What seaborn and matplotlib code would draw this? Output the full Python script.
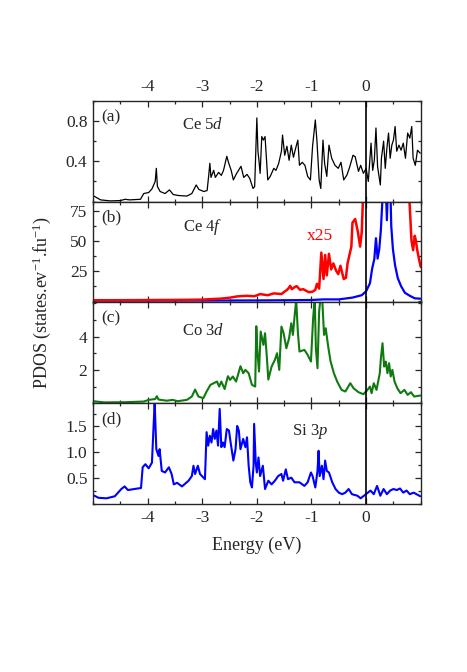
import numpy as np
import pandas as pd
import matplotlib
matplotlib.use("Agg")
import matplotlib.pyplot as plt
from matplotlib.ticker import MultipleLocator, FixedLocator
import seaborn as sns

sns.set_style("ticks")
plt.rcParams['font.family'] = ['Liberation Serif', 'DejaVu Serif']
plt.rcParams['mathtext.fontset'] = 'custom'
plt.rcParams['mathtext.rm'] = 'Liberation Serif'
plt.rcParams['mathtext.it'] = 'Liberation Serif:italic'
plt.rcParams['axes.unicode_minus'] = False

# (a) Ce 5d
ce5d_E = [-4.99, -4.86, -4.68, -4.50, -4.41, -4.33, -4.13, -4.07, -3.98, -3.92, -3.86, -3.84,
          -3.82, -3.77, -3.68, -3.60, -3.53, -3.43, -3.28, -3.19, -3.11, -3.06, -2.97, -2.91,
          -2.88, -2.86, -2.84, -2.79, -2.76, -2.70, -2.65, -2.61, -2.55, -2.52, -2.47, -2.43,
          -2.37, -2.29, -2.24, -2.18, -2.13, -2.07, -2.04, -2.00, -1.98, -1.96, -1.94, -1.91,
          -1.88, -1.85, -1.80, -1.755, -1.69, -1.65, -1.60, -1.55, -1.53, -1.49, -1.45, -1.41,
          -1.37, -1.33, -1.29, -1.25, -1.22, -1.17, -1.12, -1.07, -1.02, -0.98, -0.93, -0.90,
          -0.86, -0.83, -0.79, -0.76, -0.72, -0.68, -0.63, -0.57, -0.51, -0.46, -0.41, -0.35,
          -0.30, -0.24, -0.20, -0.14, -0.10, -0.05, 0.00, 0.04, 0.09, 0.12, 0.15, 0.18, 0.21,
          0.26, 0.28, 0.32, 0.35, 0.38, 0.41, 0.44, 0.47, 0.50, 0.53, 0.56, 0.60, 0.64, 0.68,
          0.72, 0.76, 0.80, 0.835, 0.86, 0.90, 0.94, 0.99]
ce5d = [0.057, 0.017, 0.007, 0.010, 0.023, 0.017, 0.023, 0.080, 0.090, 0.126, 0.20, 0.33,
        0.15, 0.10, 0.08, 0.116, 0.07, 0.06, 0.055, 0.08, 0.165, 0.12, 0.10, 0.11,
        0.265, 0.38, 0.24, 0.31, 0.24, 0.29, 0.26, 0.31, 0.45, 0.39, 0.31, 0.215,
        0.28, 0.35, 0.24, 0.27, 0.23, 0.13, 0.15, 0.83, 0.50, 0.40, 0.28, 0.645,
        0.61, 0.645, 0.215, 0.25, 0.33, 0.31, 0.38, 0.50, 0.66, 0.46, 0.55, 0.41,
        0.56, 0.44, 0.53, 0.61, 0.36, 0.39, 0.36, 0.25, 0.215, 0.55, 0.81, 0.60,
        0.215, 0.13, 0.61, 0.38, 0.25, 0.56, 0.43, 0.36, 0.33, 0.39, 0.215, 0.265,
        0.345, 0.46, 0.445, 0.30, 0.36, 0.28, 0.33, 0.20, 0.58, 0.31, 0.41, 0.73, 0.345,
        0.165, 0.43, 0.60, 0.33, 0.53, 0.68, 0.43, 0.56, 0.61, 0.745, 0.50, 0.56, 0.51, 0.58,
        0.43, 0.68, 0.63, 0.745, 0.43, 0.36, 0.51, 0.48]

# (b) Ce 4f : x25 curve (red, two visible parts) and raw curve (blue)
ce4f_x25_E_low = [-5.0, -4.6, -4.2, -3.8, -3.4, -3.0, -2.85, -2.67, -2.5, -2.36, -2.18, -2.05,
                  -1.94, -1.80, -1.69, -1.55, -1.45, -1.42, -1.39, -1.36, -1.33, -1.30, -1.27,
                  -1.21, -1.15, -1.05, -0.98, -0.93, -0.90, -0.86, -0.82, -0.78, -0.75, -0.72,
                  -0.68, -0.64, -0.60, -0.55, -0.51, -0.47, -0.41, -0.37, -0.34, -0.29, -0.27,
                  -0.25, -0.20, -0.15, -0.11, -0.08, -0.05]
ce4f_x25_low = [0.3, 0.3, 0.4, 0.5, 0.6, 0.8, 1.2, 1.6, 2.4, 3.5, 4.0, 3.6,
                5.4, 4.5, 6.0, 5.5, 8.9, 10.3, 12.3, 9.5, 10.5, 11.5, 12.0,
                9.0, 9.5, 7.0, 7.4, 9.0, 14.0, 10.0, 40.0, 18.0, 38.0, 21.0,
                39.0, 26.0, 31.0, 25.0, 22.0, 29.0, 18.0, 19.0, 31.0, 41.0, 45.0,
                65.0, 68.0, 57.0, 45.0, 57.0, 95.0]
ce4f_x25_E_high = [0.78, 0.83, 0.86, 0.89, 0.91, 0.94, 0.97, 1.0]
ce4f_x25_high = [95.0, 50.0, 42.0, 54.0, 50.0, 41.0, 34.0, 28.0]
ce4f_E = [-5.0, -3.0, -2.0, -1.5, -1.0, -0.78, -0.5, -0.25, -0.08, 0.0, 0.07, 0.11, 0.15,
          0.18, 0.21, 0.24, 0.27, 0.31, 0.35, 0.38, 0.41, 0.44, 0.46, 0.49, 0.53, 0.58,
          0.64, 0.71, 0.80, 0.89, 0.99]
ce4f = [0.0, 0.05, 0.15, 0.3, 0.5, 1.0, 1.0, 2.5, 4.5, 7.8, 14.5, 26.6, 34.7,
        52.0, 35.0, 42.7, 59.0, 95.0, 110.0, 67.0, 110.0, 100.0, 62.0, 43.0, 29.3, 18.6,
        12.0, 6.5, 4.0, 1.9, 1.6]

# (c) Co 3d
co3d_E = [-4.99, -4.8, -4.4, -4.07, -3.98, -3.86, -3.83, -3.80, -3.65, -3.54, -3.45, -3.28,
          -3.19, -3.13, -3.07, -2.98, -2.92, -2.85, -2.79, -2.73, -2.69, -2.65, -2.59, -2.53,
          -2.49, -2.44, -2.38, -2.30, -2.25, -2.21, -2.15, -2.09, -2.03, -2.01, -1.99, -1.96,
          -1.93, -1.88, -1.85, -1.82, -1.79, -1.73, -1.67, -1.63, -1.59, -1.55, -1.51, -1.46,
          -1.41, -1.37, -1.34, -1.31, -1.28, -1.25, -1.22, -1.13, -1.07, -1.01, -0.97, -0.94,
          -0.92, -0.89, -0.86, -0.83, -0.80, -0.77, -0.74, -0.69, -0.65, -0.59, -0.53, -0.45,
          -0.38, -0.29, -0.23, -0.14, -0.05, 0.01, 0.07, 0.10, 0.14, 0.19, 0.25, 0.27, 0.30,
          0.33, 0.36, 0.39, 0.42, 0.45, 0.48, 0.52, 0.57, 0.63, 0.70, 0.76, 0.82, 0.88, 0.99]
co3d = [0.12, 0.05, 0.06, 0.10, 0.20, 0.25, 0.42, 0.22, 0.15, 0.20, 0.12, 0.20,
        0.40, 0.82, 0.40, 0.30, 0.70, 1.10, 1.20, 1.30, 1.00, 1.30, 0.85, 1.62,
        1.40, 1.60, 1.30, 2.22, 1.80, 2.00, 1.80, 1.10, 1.00, 4.62, 3.10, 1.90,
        4.30, 3.50, 4.20, 2.90, 1.42, 2.20, 2.60, 3.00, 2.00, 4.60, 4.20, 3.30,
        3.90, 4.80, 4.10, 5.20, 6.20, 4.30, 3.10, 3.20, 2.90, 2.50, 5.10, 6.30,
        3.30, 2.10, 5.50, 6.50, 6.00, 4.10, 4.50, 3.30, 2.50, 1.80, 1.30, 0.80,
        0.70, 1.20, 0.90, 0.66, 0.54, 0.74, 1.00, 0.60, 1.20, 0.80, 1.80, 2.70, 3.60,
        2.20, 2.50, 1.80, 2.40, 1.60, 2.00, 1.30, 0.90, 0.60, 0.80, 0.50, 0.66, 0.40, 0.46]

# (d) Si 3p
si3p_E = [-4.99, -4.9, -4.75, -4.6, -4.48, -4.42, -4.36, -4.12, -4.09, -4.04, -3.98, -3.92,
          -3.89, -3.87, -3.84, -3.80, -3.78, -3.74, -3.68, -3.61, -3.56, -3.52, -3.46, -3.37,
          -3.25, -3.19, -3.16, -3.13, -3.08, -3.04, -2.95, -2.92, -2.89, -2.86, -2.83, -2.80,
          -2.77, -2.74, -2.71, -2.68, -2.65, -2.62, -2.59, -2.55, -2.51, -2.48, -2.43, -2.39,
          -2.36, -2.33, -2.30, -2.25, -2.21, -2.18, -2.15, -2.12, -2.09, -2.06, -2.05, -2.02,
          -2.00, -1.97, -1.94, -1.89, -1.85, -1.79, -1.73, -1.67, -1.61, -1.55, -1.52, -1.47,
          -1.43, -1.37, -1.31, -1.22, -1.13, -1.07, -1.01, -0.98, -0.93, -0.89, -0.87, -0.85,
          -0.81, -0.78, -0.75, -0.72, -0.68, -0.62, -0.56, -0.50, -0.44, -0.38, -0.32, -0.26,
          -0.16, -0.10, -0.04, 0.02, 0.08, 0.14, 0.20, 0.26, 0.32, 0.38, 0.44, 0.50, 0.56,
          0.62, 0.68, 0.74, 0.80, 0.87, 0.99]
si3p = [0.17, 0.12, 0.11, 0.15, 0.29, 0.34, 0.27, 0.31, 0.71, 0.77, 0.69, 0.80,
        1.51, 1.97, 1.06, 0.93, 1.06, 0.64, 0.61, 0.71, 0.58, 0.38, 0.41, 0.34,
        0.45, 0.54, 0.74, 0.58, 0.74, 0.58, 0.48, 1.39, 1.13, 1.32, 1.19, 1.45,
        1.26, 1.42, 1.13, 1.84, 1.10, 1.19, 1.10, 1.45, 1.42, 1.19, 0.84, 1.06,
        1.51, 1.42, 1.06, 1.26, 1.10, 1.29, 0.74, 0.42, 0.32, 0.74, 1.55, 0.80,
        0.61, 0.90, 0.54, 0.74, 0.29, 0.45, 0.38, 0.45, 0.54, 0.58, 0.45, 0.67,
        0.48, 0.51, 0.42, 0.42, 0.35, 0.42, 0.61, 0.54, 0.32, 0.64, 1.03, 0.54,
        0.74, 0.48, 0.84, 0.64, 0.61, 0.42, 0.29, 0.22, 0.19, 0.22, 0.29, 0.19,
        0.16, 0.11, 0.16, 0.21, 0.26, 0.19, 0.35, 0.16, 0.29, 0.19, 0.26, 0.29, 0.27,
        0.30, 0.22, 0.26, 0.19, 0.22, 0.15]

fig, axes = plt.subplots(4, 1, sharex=True, figsize=(4.67, 6.72), dpi=100)
plt.subplots_adjust(left=0.199, right=0.901, top=0.850, bottom=0.250, hspace=0)
ax_a, ax_b, ax_c, ax_d = axes

sns.lineplot(x=ce5d_E, y=ce5d, ax=ax_a, color='black', lw=0.9, estimator=None)
sns.lineplot(x=ce4f_E, y=ce4f, ax=ax_b, color='blue', lw=1.6, estimator=None)
sns.lineplot(x=ce4f_x25_E_low, y=ce4f_x25_low, ax=ax_b, color='red', lw=1.8, estimator=None)
sns.lineplot(x=ce4f_x25_E_high, y=ce4f_x25_high, ax=ax_b, color='red', lw=1.8, estimator=None)
sns.lineplot(x=co3d_E, y=co3d, ax=ax_c, color='#107a10', lw=1.5, estimator=None)
sns.lineplot(x=si3p_E, y=si3p, ax=ax_d, color='blue', lw=1.5, estimator=None)

ax_a.set_ylim(0.0, 1.0)
ax_a.yaxis.set_major_locator(FixedLocator([0.4, 0.8]))
ax_a.yaxis.set_minor_locator(MultipleLocator(0.2))
ax_b.set_ylim(-1.5, 82.5)
ax_b.yaxis.set_major_locator(FixedLocator([25, 50, 75]))
ax_b.yaxis.set_minor_locator(MultipleLocator(12.5))
ax_c.set_ylim(0, 6.05)
ax_c.yaxis.set_major_locator(FixedLocator([2, 4]))
ax_c.yaxis.set_minor_locator(MultipleLocator(1))
ax_d.set_ylim(0, 1.95)
ax_d.yaxis.set_major_locator(FixedLocator([0.5, 1.0, 1.5]))
ax_d.yaxis.set_minor_locator(MultipleLocator(0.25))
ax_a.set_yticklabels(['0.4', '0.8'])
ax_d.set_yticklabels(['0.5', '1.0', '1.5'])

labels = ['(a)', '(b)', '(c)', '(d)']
for ax, lab in zip(axes, labels):
    ax.set_xlim(-5, 1)
    ax.xaxis.set_major_locator(FixedLocator([-4, -3, -2, -1, 0]))
    ax.xaxis.set_minor_locator(MultipleLocator(0.5))
    ax.axvline(0, color='black', lw=1.2, zorder=5)
    ax.tick_params(which='both', direction='in', top=True, right=True,
                   labelbottom=False, labelsize=12.5, width=0.9, pad=4)
    ax.tick_params(which='major', length=4.5)
    ax.tick_params(which='minor', length=2.5)
    for sp in ax.spines.values():
        sp.set_linewidth(1.0)
    ax.set_xlabel('')
    ax.text(0.025, 0.84, lab, transform=ax.transAxes, fontsize=12.5, va='center')

ax_a.tick_params(labeltop=True)
ax_d.tick_params(labelbottom=True)

ax_a.text(-3.37, 0.76, 'Ce 5$d$', fontsize=12, va='center',
          transform=ax_a.get_xaxis_transform())
ax_b.text(-3.36, 0.75, 'Ce 4$f$', fontsize=12, va='center',
          transform=ax_b.get_xaxis_transform())
ax_b.text(-1.08, 0.66, 'x25', fontsize=12.5, color='red', va='center',
          transform=ax_b.get_xaxis_transform())
ax_c.text(-3.37, 0.72, 'Co 3$d$', fontsize=12, va='center',
          transform=ax_c.get_xaxis_transform())
ax_d.text(-1.36, 0.72, 'Si 3$p$', fontsize=12, va='center',
          transform=ax_d.get_xaxis_transform())

ax_d.set_xlabel('Energy (eV)', fontsize=13, labelpad=8)
fig.text(0.09, 0.55, 'PDOS (states.ev$^{-1}$.fu$^{-1}$)', rotation=90,
         fontsize=13, ha='center', va='center')

plt.savefig('out.png', dpi=100)
